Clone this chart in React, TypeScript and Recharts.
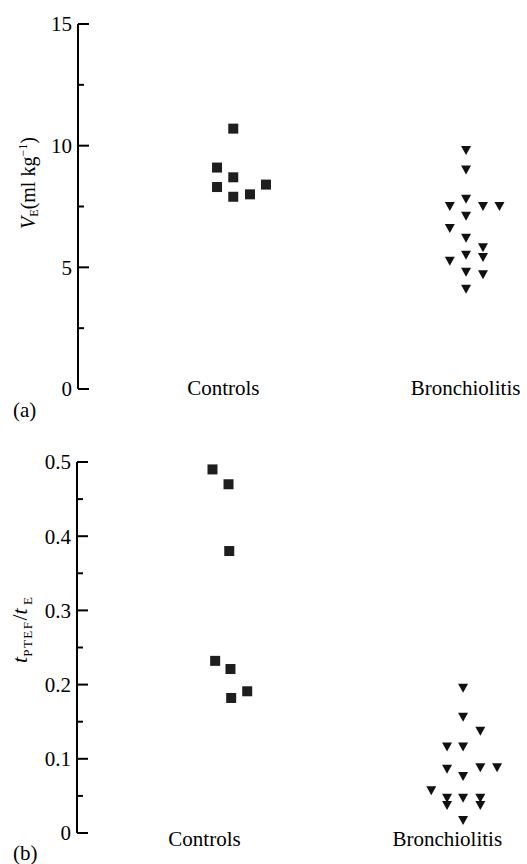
import React from 'react';
import { ScatterChart, Scatter, XAxis, YAxis } from 'recharts';

const groups = ['Controls', 'Bronchiolitis'];

// (a) minute ventilation, ml/kg; x = group position incl. the side-by-side offset
const veCtrlX = [1.041, 0.974, 1.041, 0.974, 1.176, 1.041, 1.11];
const veCtrlY = [10.7, 9.1, 8.7, 8.3, 8.4, 7.9, 8.0];
const veBronX = [2.002, 2.002, 2.002, 1.935, 2.072, 2.14, 2.002, 1.935, 2.002, 2.072, 2.002, 1.935, 2.072, 2.002, 2.072, 2.002];
const veBronY = [9.8, 9.0, 7.8, 7.5, 7.5, 7.5, 7.1, 6.6, 6.2, 5.8, 5.5, 5.25, 5.4, 4.8, 4.7, 4.1];

// (b) tPTEF / tE
const tpCtrlX = [1.033, 1.099, 1.102, 1.044, 1.107, 1.176, 1.11];
const tpCtrlY = [0.49, 0.47, 0.38, 0.232, 0.221, 0.191, 0.182];
const tpBronX = [2.065, 2.065, 2.136, 1.999, 2.065, 1.999, 2.065, 2.136, 2.205, 1.934, 1.999, 1.999, 2.065, 2.136, 2.136, 2.065];
const tpBronY = [0.195, 0.156, 0.137, 0.116, 0.116, 0.086, 0.076, 0.088, 0.088, 0.057, 0.047, 0.037, 0.047, 0.047, 0.037, 0.017];

const veTicks = [0, 2.5, 5, 7.5, 10, 12.5, 15];
const tpTicks = [0, 0.05, 0.1, 0.15, 0.2, 0.25, 0.3, 0.35, 0.4, 0.45, 0.5];

const serif = { fontFamily: '"Liberation Serif", "DejaVu Serif", serif' };

const zip = (xs: number[], ys: number[]) => xs.map((x, i) => ({ x, y: ys[i] }));

const Square = (p: any) => (
  <rect x={p.cx - 5} y={p.cy - 5} width={10} height={10} fill="#1e1e1e" />
);

const Tri = (p: any) => (
  <polygon
    points={`${p.cx - 5},${p.cy - 4.5} ${p.cx + 5},${p.cy - 4.5} ${p.cx},${p.cy + 4.5}`}
    fill="#111"
  />
);

const YTick = (p: any) => {
  const v = p.payload.value;
  const major = p.isMajor(v);
  return (
    <g>
      <line x1={p.x} x2={p.x + (major ? 11 : 6)} y1={p.y} y2={p.y} stroke="#000" strokeWidth={2} />
      {major && (
        <text x={p.x - 6} y={p.y} dy="0.35em" textAnchor="end" style={serif} fontSize={21} fill="#000">
          {p.fmt(v)}
        </text>
      )}
    </g>
  );
};

const XTick = (p: any) => (
  <text x={p.x} y={p.y + p.shift} textAnchor="middle" style={serif} fontSize={21} fill="#000">
    {groups[Math.round(p.payload.value) - 1]}
  </text>
);

const VeLabel = () => (
  <text x={35} y={183} transform="rotate(-90 35 183)" textAnchor="middle" style={serif} fontSize={20} fill="#000">
    <tspan fontStyle="italic">V</tspan>
    <tspan fontSize={12} dy={3}>E</tspan>
    <tspan dy={-3}>(ml kg</tspan>
    <tspan fontSize={12} dy={-8}>−1</tspan>
    <tspan dy={8}>)</tspan>
  </text>
);

const TpLabel = () => (
  <text x={27} y={200} transform="rotate(-90 27 200)" textAnchor="middle" style={serif} fontSize={22} fill="#000">
    <tspan fontStyle="italic">t</tspan>
    <tspan fontSize={13} letterSpacing={1.5} dy={5}>PTEF</tspan>
    <tspan dy={-5}>/</tspan>
    <tspan fontStyle="italic">t</tspan>
    <tspan fontSize={13} dy={5}> E</tspan>
  </text>
);

export default function App() {
  return (
    <div style={{ position: 'absolute', left: 0, top: 0, width: 527, height: 864, background: '#fff' }}>
      <div style={{ position: 'absolute', left: 0, top: 0 }}>
        <ScatterChart width={527} height={430} margin={{ top: 24, right: 13, bottom: 0, left: 0 }}>
          <XAxis
            type="number"
            dataKey="x"
            domain={[0.4, 2.2]}
            ticks={[1, 2]}
            axisLine={false}
            tickLine={false}
            tickSize={0}
            tickMargin={0}
            height={41}
            tick={(p: any) => <XTick {...p} shift={6} />}
          />
          <YAxis
            type="number"
            dataKey="y"
            domain={[0, 15]}
            ticks={veTicks}
            interval={0}
            width={78}
            axisLine={{ stroke: '#000', strokeWidth: 2 }}
            tickLine={false}
            tickSize={0}
            tickMargin={0}
            tick={(p: any) => <YTick {...p} isMajor={(v: number) => v % 5 === 0} fmt={(v: number) => String(v)} />}
            label={<VeLabel />}
          />
          <Scatter data={zip(veCtrlX, veCtrlY)} shape={Square} isAnimationActive={false} />
          <Scatter data={zip(veBronX, veBronY)} shape={Tri} isAnimationActive={false} />
        </ScatterChart>
      </div>
      <div style={{ position: 'absolute', left: 0, top: 430 }}>
        <ScatterChart width={527} height={434} margin={{ top: 32, right: 19, bottom: 0, left: 0 }}>
          <XAxis
            type="number"
            dataKey="x"
            domain={[0.475, 2.25]}
            ticks={[1, 2]}
            axisLine={false}
            tickLine={false}
            tickSize={0}
            tickMargin={0}
            height={31}
            tick={(p: any) => <XTick {...p} shift={13} />}
          />
          <YAxis
            type="number"
            dataKey="y"
            domain={[0, 0.5]}
            ticks={tpTicks}
            interval={0}
            width={77}
            axisLine={{ stroke: '#000', strokeWidth: 2 }}
            tickLine={false}
            tickSize={0}
            tickMargin={0}
            tick={(p: any) => (
              <YTick
                {...p}
                isMajor={(v: number) => Math.abs(v * 10 - Math.round(v * 10)) < 1e-6}
                fmt={(v: number) => (v === 0 ? '0' : v.toFixed(1))}
              />
            )}
            label={<TpLabel />}
          />
          <Scatter data={zip(tpCtrlX, tpCtrlY)} shape={Square} isAnimationActive={false} />
          <Scatter data={zip(tpBronX, tpBronY)} shape={Tri} isAnimationActive={false} />
        </ScatterChart>
      </div>
      <svg width={527} height={864} style={{ position: 'absolute', left: 0, top: 0, pointerEvents: 'none' }}>
        <text x={13} y={417} style={serif} fontSize={21} fill="#000">(a)</text>
        <text x={13} y={860} style={serif} fontSize={21} fill="#000">(b)</text>
      </svg>
    </div>
  );
}
